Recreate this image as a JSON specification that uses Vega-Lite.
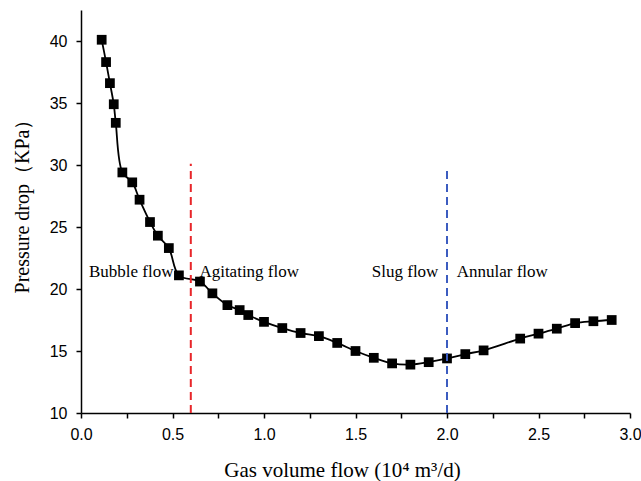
{
  "$schema": "https://vega.github.io/schema/vega-lite/v6.json",
  "autosize": "none",
  "width": 549,
  "height": 403,
  "padding": {"left": 81, "top": 10, "right": 11, "bottom": 68},
  "background": "white",
  "config": {
    "view": {"stroke": null},
    "axis": {
      "domainColor": "black", "domainWidth": 1.5,
      "tickColor": "black", "tickWidth": 1.5, "tickSize": 5,
      "labelFont": "Liberation Sans", "labelFontSize": 16, "labelColor": "black",
      "titleFont": "Liberation Serif", "titleFontSize": 20, "titleFontWeight": "normal", "titleColor": "black",
      "grid": false, "labelOverlap": false, "labelFlush": false
    }
  },
  "layer": [
    {
      "data": {"name": "pts", "values": [
        {"q": 0.113, "p": 40.1}, {"q": 0.137, "p": 38.3}, {"q": 0.158, "p": 36.6}, {"q": 0.179, "p": 34.9},
        {"q": 0.19, "p": 33.4}, {"q": 0.226, "p": 29.4}, {"q": 0.28, "p": 28.6}, {"q": 0.32, "p": 27.2},
        {"q": 0.377, "p": 25.4}, {"q": 0.42, "p": 24.3}, {"q": 0.48, "p": 23.3}, {"q": 0.535, "p": 21.1},
        {"q": 0.65, "p": 20.6}, {"q": 0.718, "p": 19.65}, {"q": 0.8, "p": 18.7}, {"q": 0.867, "p": 18.3},
        {"q": 0.914, "p": 17.9}, {"q": 1.0, "p": 17.35}, {"q": 1.1, "p": 16.85}, {"q": 1.2, "p": 16.45},
        {"q": 1.3, "p": 16.2}, {"q": 1.4, "p": 15.65}, {"q": 1.5, "p": 15.0}, {"q": 1.6, "p": 14.45},
        {"q": 1.7, "p": 14.0}, {"q": 1.8, "p": 13.9}, {"q": 1.9, "p": 14.1}, {"q": 2.0, "p": 14.4},
        {"q": 2.1, "p": 14.75}, {"q": 2.2, "p": 15.05}, {"q": 2.4, "p": 16.0}, {"q": 2.5, "p": 16.4},
        {"q": 2.6, "p": 16.8}, {"q": 2.7, "p": 17.25}, {"q": 2.8, "p": 17.4}, {"q": 2.9, "p": 17.5}
      ]},
      "layer": [
        {
          "mark": {"type": "line", "interpolate": "catmull-rom", "color": "black", "strokeWidth": 1.8},
          "encoding": {
            "x": {"field": "q", "type": "quantitative",
              "scale": {"domain": [0, 3], "nice": false, "zero": false},
              "axis": {"title": "Gas volume flow (10⁴ m³/d)", "titleFontSize": 21,
                "values": [0, 0.25, 0.5, 0.75, 1, 1.25, 1.5, 1.75, 2, 2.25, 2.5, 2.75, 3],
                "labelExpr": "datum.value % 0.5 == 0 ? format(datum.value, '.1f') : ''",
                "labelPadding": 8, "titleX": 261, "titleY": 63, "titleBaseline": "alphabetic", "titleAnchor": null, "titleAlign": "center"}},
            "y": {"field": "p", "type": "quantitative",
              "scale": {"domain": [10, 42.5], "nice": false, "zero": false},
              "axis": {"title": "Pressure drop（KPa）",
                "values": [10, 12.5, 15, 17.5, 20, 22.5, 25, 27.5, 30, 32.5, 35, 37.5, 40, 42.5],
                "labelExpr": "datum.value % 5 == 0 ? format(datum.value, 'd') : ''",
                "labelPadding": 9, "titleX": -53, "titleY": 191, "titleBaseline": "alphabetic", "titleAlign": "center", "titleAngle": -90}}
          }
        },
        {
          "mark": {"type": "point", "shape": "square", "filled": true, "color": "black", "size": 95, "opacity": 1},
          "encoding": {
            "x": {"field": "q", "type": "quantitative"},
            "y": {"field": "p", "type": "quantitative"}
          }
        }
      ]
    },
    {
      "data": {"values": [
        {"q": 0.6, "from": 10, "to": 30.1, "boundary": "Bubble/Agitating"},
        {"q": 2.0, "from": 10, "to": 29.8, "boundary": "Slug/Annular"}
      ]},
      "mark": {"type": "rule", "strokeWidth": 2, "strokeDash": [8, 5]},
      "encoding": {
        "x": {"field": "q", "type": "quantitative"},
        "y": {"field": "from", "type": "quantitative"},
        "y2": {"field": "to"},
        "color": {"field": "boundary", "type": "nominal",
          "scale": {"domain": ["Bubble/Agitating", "Slug/Annular"], "range": ["#e8262a", "#3c5cc0"]},
          "legend": null}
      }
    },
    {
      "data": {"values": [
        {"q": 0.505, "p": 21.35, "label": "Bubble flow"},
        {"q": 1.953, "p": 21.35, "label": "Slug flow"}
      ]},
      "mark": {"type": "text", "align": "right", "baseline": "middle", "font": "Liberation Serif", "fontSize": 17, "color": "black"},
      "encoding": {
        "x": {"field": "q", "type": "quantitative"},
        "y": {"field": "p", "type": "quantitative"},
        "text": {"field": "label"}
      }
    },
    {
      "data": {"values": [
        {"q": 0.647, "p": 21.35, "label": "Agitating flow"},
        {"q": 2.053, "p": 21.35, "label": "Annular flow"}
      ]},
      "mark": {"type": "text", "align": "left", "baseline": "middle", "font": "Liberation Serif", "fontSize": 17, "color": "black"},
      "encoding": {
        "x": {"field": "q", "type": "quantitative"},
        "y": {"field": "p", "type": "quantitative"},
        "text": {"field": "label"}
      }
    }
  ]
}
